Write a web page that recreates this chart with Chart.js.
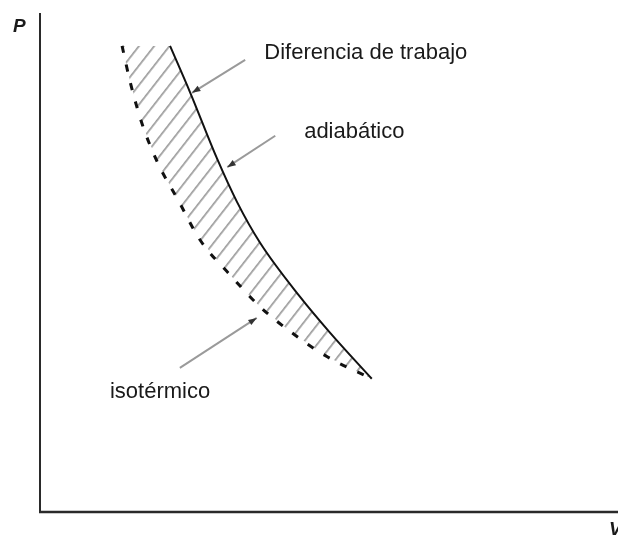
<!DOCTYPE html>
<html>
<head>
<meta charset="utf-8">
<script src="https://cdn.jsdelivr.net/npm/chart.js@4.4.0/dist/chart.umd.min.js"></script>
<style>
  html, body { margin: 0; padding: 0; background: #fff; }
  #pv { display: block; }
</style>
</head>
<body>
<canvas id="pv" width="618" height="536"></canvas>
<script>
// curves (V, P in arbitrary units, 0..10)
const adiabaticV = [2.25, 2.60, 3.06, 3.41, 3.81, 4.50, 5.02, 5.74];
const adiabaticP = [9.34, 8.40, 7.09, 6.21, 5.39, 4.31, 3.59, 2.67];
const isothermV = [1.42, 1.56, 1.76, 2.04, 2.39, 2.77, 3.29, 3.81, 4.36, 4.97, 5.74];
const isothermP = [9.34, 8.62, 7.80, 6.99, 6.25, 5.45, 4.75, 4.11, 3.59, 3.11, 2.67];

const labels = ['Diferencia de trabajo', 'adiabático', 'isotérmico'];
const axisLabels = ['P', 'V'];

const toPts = (xs, ys) => xs.map((x, i) => ({x: x, y: ys[i]}));
const adiabatic = toPts(adiabaticV, adiabaticP);
const isotherm = toPts(isothermV, isothermP);
// closed outline of the shaded area: down the adiabat, back up the isotherm
const shaded = adiabatic.concat(isotherm.slice().reverse());

// diagonal hatching
function hatch() {
    const c = document.createElement('canvas');
    c.width = 12; c.height = 12;
    const g = c.getContext('2d');
    g.fillStyle = '#9c9c9c';
    g.fillRect(0, 5, 12, 1.7);
    const pat = g.createPattern(c, 'repeat');
    pat.setTransform(new DOMMatrix().rotate(-52));
    return pat;
}

function arrow(ctx, x1, y1, x2, y2) {
    ctx.strokeStyle = '#9a9a9a';
    ctx.lineWidth = 2;
    ctx.beginPath();
    ctx.moveTo(x1, y1);
    ctx.lineTo(x2, y2);
    ctx.stroke();
    const a = Math.atan2(y2 - y1, x2 - x1);
    ctx.fillStyle = '#333';
    ctx.beginPath();
    ctx.moveTo(x2, y2);
    ctx.lineTo(x2 - 9 * Math.cos(a - 0.35), y2 - 9 * Math.sin(a - 0.35));
    ctx.lineTo(x2 - 9 * Math.cos(a + 0.35), y2 - 9 * Math.sin(a + 0.35));
    ctx.closePath();
    ctx.fill();
}

const notes = {
    id: 'notes',
    afterDraw(chart) {
        const ctx = chart.ctx;
        const xs = chart.scales.x, ys = chart.scales.y;
        const a = chart.chartArea;
        const px = v => xs.getPixelForValue(v);
        const py = p => ys.getPixelForValue(p);
        ctx.save();
        // axes
        ctx.strokeStyle = '#2a2a2a';
        ctx.lineWidth = 2;
        ctx.beginPath();
        ctx.moveTo(a.left, a.top);
        ctx.lineTo(a.left, a.bottom);
        ctx.stroke();
        ctx.lineWidth = 2.5;
        ctx.beginPath();
        ctx.moveTo(a.left - 1, a.bottom);
        ctx.lineTo(a.right, a.bottom);
        ctx.stroke();

        arrow(ctx, px(3.55), py(9.06), px(2.63), py(8.40));
        arrow(ctx, px(4.07), py(7.54), px(3.24), py(6.91));
        arrow(ctx, px(2.42), py(2.89), px(3.75), py(3.89));

        ctx.fillStyle = '#1a1a1a';
        ctx.font = '22px "Liberation Sans", Arial, sans-serif';
        ctx.textBaseline = 'middle';
        ctx.textAlign = 'left';
        ctx.fillText(labels[0], px(3.88), py(9.20));
        ctx.fillText(labels[1], px(4.57), py(7.62));
        ctx.fillText(labels[2], px(1.21), py(2.40));

        ctx.font = 'italic bold 19px "Liberation Sans", Arial, sans-serif';
        ctx.fillText(axisLabels[0], 13, 27);
        ctx.fillText(axisLabels[1], 609, 530);
        ctx.restore();
    }
};

const ctx = document.getElementById('pv').getContext('2d');
const chart = new Chart(ctx, {
    type: 'line',
    data: {
        datasets: [{
            label: 'adiabático',
            data: adiabatic,
            borderColor: '#111',
            borderWidth: 2,
            cubicInterpolationMode: 'monotone',
            pointRadius: 0,
            fill: false,
            order: 1
        }, {
            label: 'isotérmico',
            data: isotherm,
            borderColor: '#111',
            borderWidth: 3,
            borderDash: [7, 12],
            cubicInterpolationMode: 'monotone',
            pointRadius: 0,
            fill: false,
            order: 1
        }, {
            label: 'Diferencia de trabajo',
            data: shaded,
            borderWidth: 0,
            borderColor: 'rgba(0,0,0,0)',
            backgroundColor: hatch(),
            tension: 0,
            pointRadius: 0,
            fill: 'shape',
            order: 3
        }]
    },
    options: {
        responsive: false,
        animation: false,
        layout: {padding: {left: 40, top: 13, right: 0, bottom: 24}},
        plugins: {legend: {display: false}, tooltip: {enabled: false}},
        scales: {
            x: {type: 'linear', min: 0, max: 10, display: false},
            y: {type: 'linear', min: 0, max: 10, display: false}
        }
    },
    plugins: [notes]
});
</script>
</body>
</html>
